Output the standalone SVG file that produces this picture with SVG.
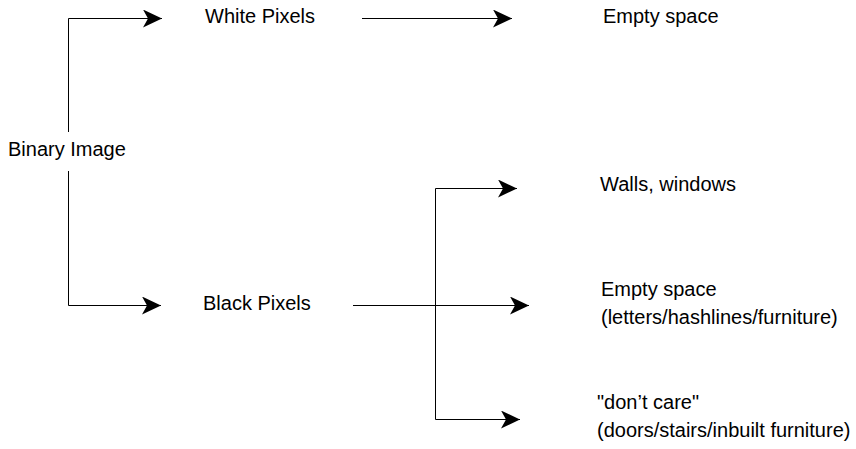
<svg xmlns="http://www.w3.org/2000/svg" width="856" height="449" viewBox="0 0 856 449">
  <style>
    .lbl { font-family: "Liberation Sans", Arial, sans-serif; font-size: 20px; fill: #000; }
    .edge { fill: none; stroke: #000; stroke-width: 1; }
  </style>
  <defs>
    <marker id="arrow" markerUnits="userSpaceOnUse" markerWidth="20" markerHeight="20" refX="19" refY="9" orient="auto">
      <path d="M0,0 L19,9 L0,18 L5,9 Z" fill="#000"/>
    </marker>
  </defs>
  <rect width="856" height="449" fill="#fff"/>

  <g id="connectors">
    <path class="edge" d="M68.5,132 V18.5 H162" marker-end="url(#arrow)"/>
    <path class="edge" d="M68.5,171 V305.5 H161" marker-end="url(#arrow)"/>
    <path class="edge" d="M362,18.5 H512" marker-end="url(#arrow)"/>
    <path class="edge" d="M353,305.5 H529" marker-end="url(#arrow)"/>
    <path class="edge" d="M435.5,305.5 V188.5 H517" marker-end="url(#arrow)"/>
    <path class="edge" d="M435.5,305.5 V419.5 H520" marker-end="url(#arrow)"/>
  </g>

  <g id="binary-image"><text class="lbl" x="8" y="156">Binary Image</text></g>
  <g id="white-pixels"><text class="lbl" x="205" y="23">White Pixels</text></g>
  <g id="black-pixels"><text class="lbl" x="203" y="310">Black Pixels</text></g>
  <g id="empty-space-white"><text class="lbl" x="603" y="23">Empty space</text></g>
  <g id="walls-windows"><text class="lbl" x="600" y="191">Walls, windows</text></g>
  <g id="empty-space-black">
    <text class="lbl" x="601" y="296">Empty space</text>
    <text class="lbl" x="601" y="324">(letters/hashlines/furniture)</text>
  </g>
  <g id="dont-care">
    <text class="lbl" x="597" y="409">"don’t care"</text>
    <text class="lbl" x="597" y="437">(doors/stairs/inbuilt furniture)</text>
  </g>
</svg>
